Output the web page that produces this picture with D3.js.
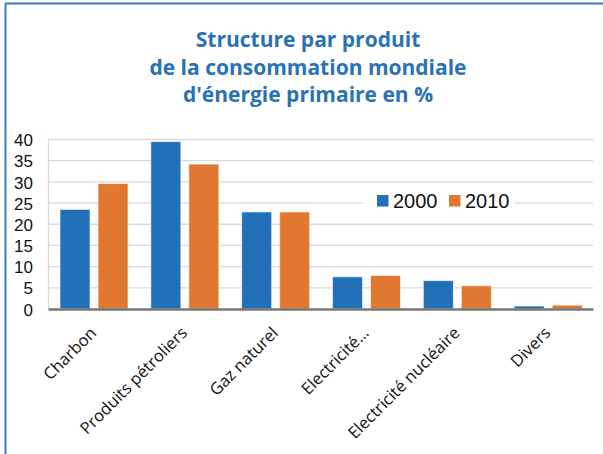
<!DOCTYPE html>
<html><head><meta charset="utf-8">
<script src="https://cdn.jsdelivr.net/npm/d3@7"></script>
<style>body{margin:0;background:#fff}svg{display:block}</style>
</head><body><svg id="c" width="603" height="454"></svg>
<script>
const categories = ["Charbon","Produits pétroliers","Gaz naturel","Electricité…","Electricité nucléaire","Divers"];
const series = ["2000","2010"];
const values2000 = [23.5, 39.5, 22.9, 7.6, 6.7, 0.7];
const values2010 = [29.6, 34.2, 22.9, 7.9, 5.5, 0.9];
const yTicks = [0,5,10,15,20,25,30,35,40];
const titleLines = ["Structure par produit","de la consommation mondiale","d'énergie primaire en %"];
const colors = {"2000":"#2170b8","2010":"#e07831"};

const svg = d3.select("#c");
// frame
svg.append("line").attr("x1",5.5).attr("x2",5.5).attr("y1",3).attr("y2",454).attr("stroke","#2f80c8").attr("stroke-width",2);
svg.append("line").attr("x1",5).attr("x2",603).attr("y1",3.5).attr("y2",3.5).attr("stroke","#2f80c8").attr("stroke-width",2);

// title
svg.append("g").selectAll("text").data(titleLines).join("text")
  .attr("x",308).attr("y",(d,i)=>47+i*27.5).attr("text-anchor","middle")
  .attr("font-family","'Open Sans', Lato, sans-serif").attr("font-weight","bold").attr("font-size",21)
  .attr("fill","#2a72b8").text(d=>d);

const L=48, R=593, T=139.5, B=309;
const x0 = d3.scaleBand().domain(categories).range([L,R]).padding(0);
const x1 = d3.scaleBand().domain(series).range([12,80]).paddingInner(8/38).paddingOuter(0);
const y = d3.scaleLinear().domain([0,40]).range([B,T]);

// gridlines
svg.append("g").selectAll("line").data(yTicks.filter(d=>d>0)).join("line")
  .attr("x1",L).attr("x2",R).attr("y1",d=>y(d)).attr("y2",d=>y(d))
  .attr("stroke","#d9d9d9").attr("stroke-width",1.3);
svg.append("line").attr("x1",L+0.5).attr("x2",L+0.5).attr("y1",T).attr("y2",B).attr("stroke","#d9d9d9").attr("stroke-width",1.3);

// y axis labels
const yAxis = d3.axisLeft(y).tickValues(yTicks).tickSize(0).tickPadding(15);
const gy = svg.append("g").attr("transform",`translate(${L},0)`).call(yAxis);
gy.select(".domain").remove();
gy.selectAll("text").attr("font-family","'Liberation Sans', Arial, sans-serif").attr("font-size",17).attr("fill","#111").attr("dy","0.36em");

// bars
const rows = categories.map((c,i)=>({cat:c, vals:[{s:"2000",v:values2000[i]},{s:"2010",v:values2010[i]}]}));
const g = svg.append("g").selectAll("g").data(rows).join("g").attr("transform",d=>`translate(${x0(d.cat)},0)`);
g.selectAll("rect").data(d=>d.vals).join("rect")
  .attr("x",d=>x1(d.s)).attr("width",x1.bandwidth())
  .attr("y",d=>y(d.v)).attr("height",d=>B-y(d.v))
  .attr("fill",d=>colors[d.s]).attr("stroke","#fff").attr("stroke-opacity",0.6).attr("stroke-width",1);

// x axis
const xAxis = d3.axisBottom(x0).tickSize(0).tickPadding(0);
const gx = svg.append("g").attr("transform",`translate(0,${B})`).call(xAxis);
gx.select(".domain").attr("stroke","#777").attr("stroke-width",2.5);
gx.selectAll("text").attr("font-family","'Open Sans', Lato, sans-serif").attr("font-size",16.5).attr("fill","#111")
  .attr("text-anchor","end").attr("dy",0).attr("y",0)
  .attr("transform","translate(4,25) rotate(-45)");

// legend
const legendBg = svg.append("rect").attr("x",363).attr("y",190).attr("width",152).attr("height",22).attr("fill","#fff");
const lg = svg.append("g").selectAll("g").data(series).join("g")
  .attr("transform",(d,i)=>`translate(${i===0?377:449},195)`);
lg.append("rect").attr("width",11.5).attr("height",11.5).attr("fill",d=>colors[d]);
lg.append("text").attr("x",16).attr("y",12.5).attr("font-family","'Liberation Sans', Arial, sans-serif")
  .attr("font-size",20).attr("fill","#111").text(d=>d);
</script></body></html>
